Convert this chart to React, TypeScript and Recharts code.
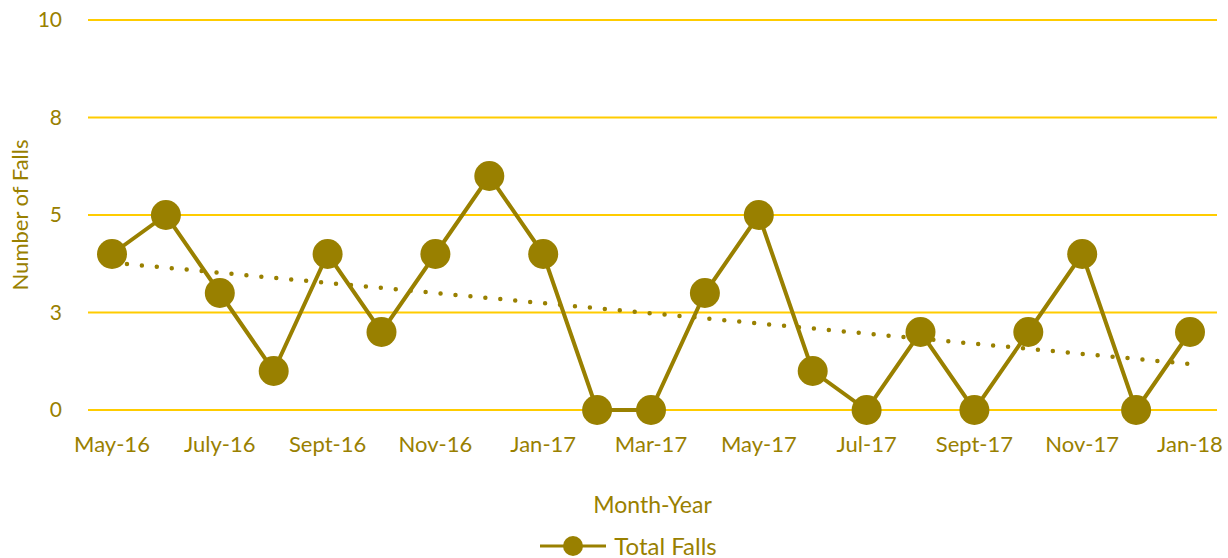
import { LineChart, Line, XAxis, YAxis, CartesianGrid, Legend } from 'recharts'

const months = [
  'May-16', 'Jun-16', 'July-16', 'Aug-16', 'Sept-16', 'Oct-16', 'Nov-16', 'Dec-16',
  'Jan-17', 'Feb-17', 'Mar-17', 'Apr-17', 'May-17', 'Jun-17', 'Jul-17', 'Aug-17',
  'Sept-17', 'Oct-17', 'Nov-17', 'Dec-17', 'Jan-18',
]
const totalFalls = [4, 5, 3, 1, 4, 2, 4, 6, 4, 0, 0, 3, 5, 1, 0, 2, 0, 2, 4, 0, 2]
// linear trend, value at first and last month
const trendStart = 3.78
const trendEnd = 1.18
const yTicks = [0, 2.5, 5, 7.5, 10]

const OLIVE = '#998000'
const GRID = '#ffcc00'
const FONT = 'Lato, "Open Sans", sans-serif'

const data = months.map((m, i) => ({
  month: m,
  falls: totalFalls[i],
  trend: i === 0 ? trendStart : i === months.length - 1 ? trendEnd : null,
}))

function LegendContent() {
  return (
    <div
      style={{
        height: 38,
        boxSizing: 'border-box',
        paddingTop: 14,
        paddingLeft: 40,
        display: 'flex',
        justifyContent: 'center',
        alignItems: 'flex-start',
        fontFamily: FONT,
        fontSize: 24,
        color: OLIVE,
      }}
    >
      <svg width={66} height={24} style={{ marginRight: 8 }}>
        <line x1={0} y1={12} x2={66} y2={12} stroke={OLIVE} strokeWidth={3} />
        <circle cx={33} cy={12} r={10} fill={OLIVE} />
      </svg>
      <span style={{ lineHeight: '24px' }}>Total Falls</span>
    </div>
  )
}

export default function App() {
  return (
    <div style={{ position: 'absolute', left: 0, top: 0, background: '#fff' }}>
      <LineChart
        width={1228}
        height={558}
        data={data}
        margin={{ top: 20, right: 11, left: 0, bottom: 0 }}
      >
        <CartesianGrid vertical={false} stroke={GRID} strokeWidth={2} />
        <XAxis
          dataKey="month"
          interval={1}
          axisLine={false}
          tickLine={false}
          height={110}
          tickMargin={20}
          padding={{ left: 24, right: 27 }}
          tick={{ fill: OLIVE, fontSize: 22, fontFamily: FONT }}
          label={{
            value: 'Month-Year',
            position: 'insideBottom',
            offset: 7,
            fill: OLIVE,
            fontSize: 23,
            fontFamily: FONT,
          }}
        />
        <YAxis
          domain={[0, 10]}
          ticks={yTicks}
          width={88}
          axisLine={false}
          tickLine={false}
          tickMargin={20}
          tickFormatter={(v: number) => String(Math.round(v))}
          tick={{ fill: OLIVE, fontSize: 21, fontFamily: FONT }}
          label={{
            value: 'Number of Falls',
            angle: -90,
            position: 'insideLeft',
            offset: 20,
            style: { textAnchor: 'middle' },
            fill: OLIVE,
            fontSize: 22,
            fontFamily: FONT,
          }}
        />
        <Legend verticalAlign="bottom" height={38} content={<LegendContent />} />
        <Line
          dataKey="trend"
          connectNulls
          stroke={OLIVE}
          strokeWidth={4.5}
          strokeDasharray="0 15"
          strokeLinecap="round"
          dot={false}
          activeDot={false}
          legendType="none"
          isAnimationActive={false}
        />
        <Line
          dataKey="falls"
          stroke={OLIVE}
          strokeWidth={4}
          dot={{ r: 15, fill: OLIVE, stroke: OLIVE, strokeWidth: 0 }}
          activeDot={false}
          isAnimationActive={false}
        />
      </LineChart>
    </div>
  )
}
